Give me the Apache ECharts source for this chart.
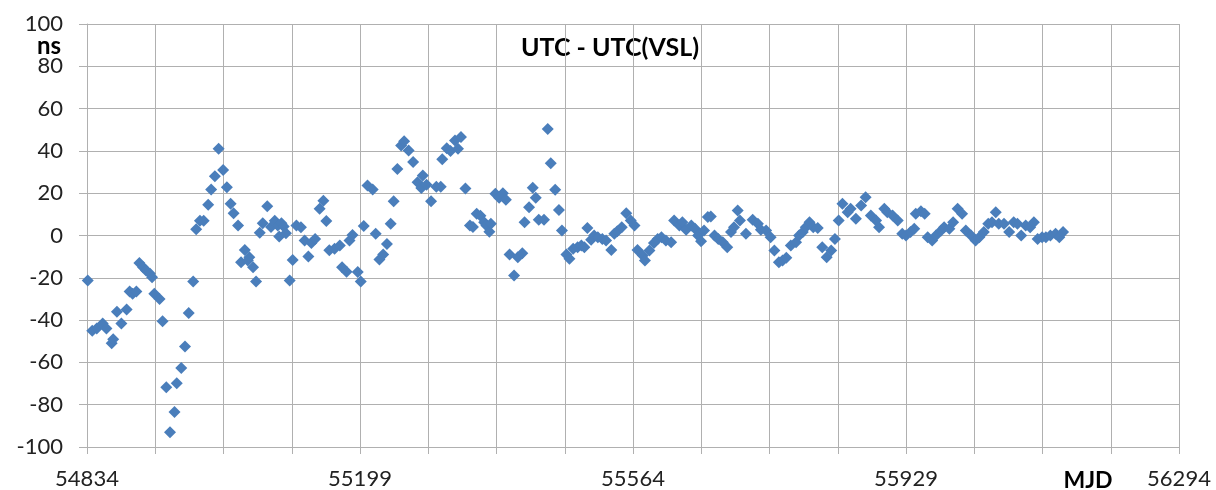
<!DOCTYPE html>
<html>
<head>
<meta charset="utf-8">
<script src="https://cdn.jsdelivr.net/npm/echarts@6/dist/echarts.min.js"></script>
<style>
html,body{margin:0;padding:0;background:#fff;}
#chart{width:1216px;height:490px;}
</style>
</head>
<body>
<div id="chart"></div>
<script>
const chartTitle = 'UTC - UTC(VSL)';
const yUnit = 'ns';
const xName = 'MJD';
const mjdStart = 54834;
const mjdEnd = 56294;
const xTickLabels = [54834, 55199, 55564, 55929, 56294];
const yMin = -100, yMax = 100, yStep = 20;

const mjd = [
54835,54841,54847,54855,54860,54867,54869,54874,54880,54887,
54891,54895,54900,54904,54909,54913,54918,54921,54924,54931,
54935,54940,54945,54951,54954,54960,54965,54970,54976,54980,
54985,54990,54996,55000,55005,55010,55016,55021,55026,55030,
55036,55040,55045,55049,55051,55056,55060,55065,55069,55075,
55080,55085,55089,55091,55094,55097,55100,55105,55109,55114,
55120,55125,55130,55134,55139,55145,55150,55154,55158,55165,
55172,55175,55181,55185,55189,55196,55200,55204,55209,55216,
55220,55225,55230,55235,55240,55244,55249,55254,55258,55264,
55270,55276,55281,55283,55288,55294,55301,55307,55309,55315,
55320,55326,55330,55334,55340,55346,55350,55355,55360,55365,
55368,55372,55374,55380,55385,55390,55394,55399,55405,55410,
55416,55419,55425,55430,55434,55438,55445,55450,55454,55460,
55465,55469,55475,55479,55484,55490,55495,55499,55503,55508,
55512,55517,55523,55528,55535,55539,55543,55549,55555,55561,
55566,55570,55577,55580,55586,55592,55597,55602,55608,55615,
55619,55626,55630,55635,55642,55647,55651,55655,55659,55664,
55668,55673,55678,55684,55690,55695,55699,55704,55707,55715,
55724,55731,55735,55742,55748,55753,55759,55764,55769,55775,
55782,55786,55791,55795,55800,55805,55811,55817,55823,55829,
55834,55839,55844,55851,55855,55862,55869,55875,55882,55889,
55893,55900,55904,55911,55918,55924,55929,55935,55940,55942,
55949,55954,55958,55964,55969,55976,55980,55987,55992,55998,
56004,56009,56016,56022,56027,56033,56039,56044,56049,56053,
56060,56067,56073,56078,56083,56089,56095,56100,56105,56111,
56116,56122,56129,56134,56139
];

const utcDiff = [
-21.3,-45,-44,-41.6,-44,-51,-49,-36,-41.6,-35,
-26.5,-27.5,-26.5,-13,-15,-16.5,-18,-19.7,-27.5,-30,
-40.5,-71.7,-93,-83.5,-69.8,-62.6,-52.5,-36.7,-21.7,3,
7,7,14.5,21.7,28,41,31,22.8,15,10.5,
4.7,-12.6,-6.8,-11.8,-10.3,-15,-21.7,1.3,5.8,13.8,
4,7,4.7,-0.5,5.8,4.3,1.1,-21.3,-11.6,4.7,
3.9,-2.4,-9.9,-3.6,-1.6,12.6,16.4,6.8,-7,-6.3,
-4.7,-15,-17.1,-2.4,0.2,-17.3,-21.8,4.5,23.6,21.8,
0.8,-11.4,-9,-4,5.5,16.2,31.5,42.5,44.6,40.2,
34.7,25.2,22.4,28.4,24,16.2,23,23,36,41.3,
39.9,44.9,41,46.6,22.2,4.7,4,10.3,9.3,6.3,
4.7,1.8,5.5,19.7,17.8,20,16.9,-9,-18.9,-10.3,
-8.4,6.3,13.4,22.6,17.8,7.4,7.4,50.4,34.2,21.6,
12.1,2.4,-9,-11,-6.3,-5.5,-4.7,-5.5,3.6,-2,
0,-0.8,-1.6,-2.4,-6.8,0.8,2,3.9,10.5,7.1,
4.7,-6.8,-9.5,-11.8,-7.1,-3.6,-1.6,-0.8,-2.4,-3.2,
7.1,4.7,6.3,2.7,4.7,3.2,0,-2.7,2.4,8.7,
9,0,-1.6,-3.2,-5.5,1.6,3.9,11.8,7.1,0.8,
7.4,5.5,2.7,2.4,-0.8,-7.1,-12.6,-11.8,-10.5,-4.7,
-3.2,0,1.6,3.9,6.3,3.9,3.6,-5.5,-10.3,-7.1,
-1.6,7.1,15,11,12.6,7.9,14.2,18.1,9.5,7.1,
3.9,12.6,11,9.5,7.1,0.8,0,1.6,3.2,10.3,
11.5,10.3,-0.8,-2.4,0,2.4,3.9,3.2,6.3,12.6,
10.3,2.4,0,-2.4,-0.8,1.6,5.5,6.3,11,5.5,
5.5,1.6,6.3,5.5,0,4.7,3.9,6.3,-1.6,-0.8,
-0.8,0,0.8,-0.8,1.6
];

const FONT = 'Lato, "Liberation Sans", sans-serif';
const GRID_COLOR = '#b0b0b0';
const TEXT_COLOR = '#222';

const points = mjd.map((m, i) => [m - mjdStart, utcDiff[i]]);

const chart = echarts.init(document.getElementById('chart'), null, {renderer: 'canvas'});
chart.setOption({
  animation: false,
  backgroundColor: '#fff',
  grid: {left: 87, right: 37, top: 24, bottom: 43, containLabel: false},
  xAxis: {
    type: 'value',
    min: 0,
    max: mjdEnd - mjdStart,
    interval: (mjdEnd - mjdStart) / 16,
    axisLine: {show: true, onZero: false, lineStyle: {color: GRID_COLOR, width: 1}},
    axisTick: {show: true, length: 7, lineStyle: {color: GRID_COLOR}},
    splitLine: {show: true, lineStyle: {color: GRID_COLOR, width: 1}},
    axisLabel: {
      show: true,
      showMinLabel: true,
      showMaxLabel: true,
      margin: 21,
      fontSize: 22,
      fontFamily: FONT,
      color: TEXT_COLOR,
      formatter: function (v) {
        const m = mjdStart + v;
        const r = Math.round(m);
        return (Math.abs(m - r) < 0.01 && xTickLabels.indexOf(r) >= 0) ? String(r) : '';
      }
    }
  },
  yAxis: {
    type: 'value',
    min: yMin,
    max: yMax,
    interval: yStep,
    axisLine: {show: true, lineStyle: {color: GRID_COLOR, width: 1}},
    axisTick: {show: true, length: 8, lineStyle: {color: GRID_COLOR}},
    splitLine: {show: true, lineStyle: {color: GRID_COLOR, width: 1}},
    axisLabel: {
      margin: 24,
      fontSize: 22,
      fontFamily: FONT,
      color: TEXT_COLOR
    }
  },
  graphic: [
    {type: 'text', x: 610, y: 48, style: {text: chartTitle, font: 'bold 25px ' + FONT, fill: '#000', textAlign: 'center', textVerticalAlign: 'middle'}},
    {type: 'text', x: 49, y: 46, style: {text: yUnit, font: 'bold 24px ' + FONT, fill: '#000', textAlign: 'center', textVerticalAlign: 'middle'}},
    {type: 'text', x: 1088, y: 481, style: {text: xName, font: 'bold 23px ' + FONT, fill: '#000', textAlign: 'center', textVerticalAlign: 'middle'}}
  ],
  series: [{
    type: 'scatter',
    data: points,
    symbol: 'diamond',
    symbolSize: 12,
    itemStyle: {color: '#4a7ebb', opacity: 1}
  }]
});
</script>
</body>
</html>
